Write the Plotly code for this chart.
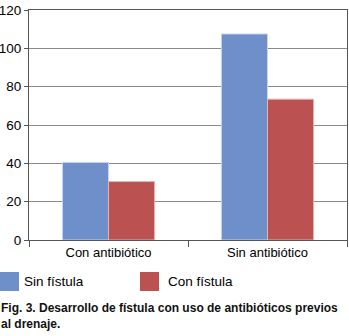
import plotly.graph_objects as go

categories = ["Con antibiótico", "Sin antibiótico"]
sin_fistula = [40.5, 107.5]
con_fistula = [30.5, 73.5]
series_names = ["Sin fístula", "Con fístula"]
y_ticks = [0, 20, 40, 60, 80, 100, 120]
caption = "Fig. 3. Desarrollo de fístula con uso de antibióticos previos<br>al drenaje."

BLUE = "#6E8FCA"
RED = "#BC5151"
FONT = "Liberation Sans, Arial, sans-serif"

fig = go.Figure()
fig.add_trace(go.Bar(x=categories, y=sin_fistula, name=series_names[0],
                     marker=dict(color=BLUE, line=dict(color="#C9D5EE", width=1))))
fig.add_trace(go.Bar(x=categories, y=con_fistula, name=series_names[1],
                     marker=dict(color=RED, line=dict(color="#E3B5B5", width=1))))

fig.update_layout(
    width=349, height=336,
    margin=dict(l=29, r=2, t=10, b=96, autoexpand=False),
    paper_bgcolor="white", plot_bgcolor="white",
    barmode="group", bargap=0.42, bargroupgap=0,
    showlegend=False,
    font=dict(family=FONT, size=13, color="black"),
)
fig.update_yaxes(
    range=[0, 120], tickvals=y_ticks, ticks="outside", ticklen=4, tickcolor="#555",
    showline=True, linecolor="#555", linewidth=1, mirror=True, automargin=False,
    showgrid=True, gridcolor="#8a8a8a", gridwidth=1, zeroline=False,
    tickfont=dict(size=13.5, family=FONT, color="black"),
)
fig.update_xaxes(
    ticks="outside", tickson="boundaries", ticklen=6, tickcolor="#555",
    showline=True, linecolor="#555", linewidth=1, mirror=True, automargin=False,
    tickfont=dict(size=13, family=FONT, color="black"),
)

# legend swatches
fig.add_shape(type="rect", xref="paper", yref="paper", x0=-29/318, x1=-10/318,
              y0=-51/230, y1=-32/230, fillcolor=BLUE, line=dict(width=0))
fig.add_shape(type="rect", xref="paper", yref="paper", x0=111/318, x1=130/318,
              y0=-51/230, y1=-32/230, fillcolor=RED, line=dict(width=0))
fig.add_annotation(xref="paper", yref="paper", x=-7/318, y=-41.5/230, text=series_names[0],
                   showarrow=False, xanchor="left", yanchor="middle",
                   font=dict(size=13.5, family=FONT, color="black"))
fig.add_annotation(xref="paper", yref="paper", x=137/318, y=-41.5/230, text=series_names[1],
                   showarrow=False, xanchor="left", yanchor="middle",
                   font=dict(size=13.5, family=FONT, color="black"))
fig.add_annotation(xref="paper", yref="paper", x=-30/318, y=-59/230, text="<b>" + caption + "</b>",
                   showarrow=False, xanchor="left", yanchor="top", align="left",
                   font=dict(size=12, family=FONT, color="#111"))

fig.write_html("out.html", config={"displayModeBar": False},
               post_script="document.body.style.margin='0';")
